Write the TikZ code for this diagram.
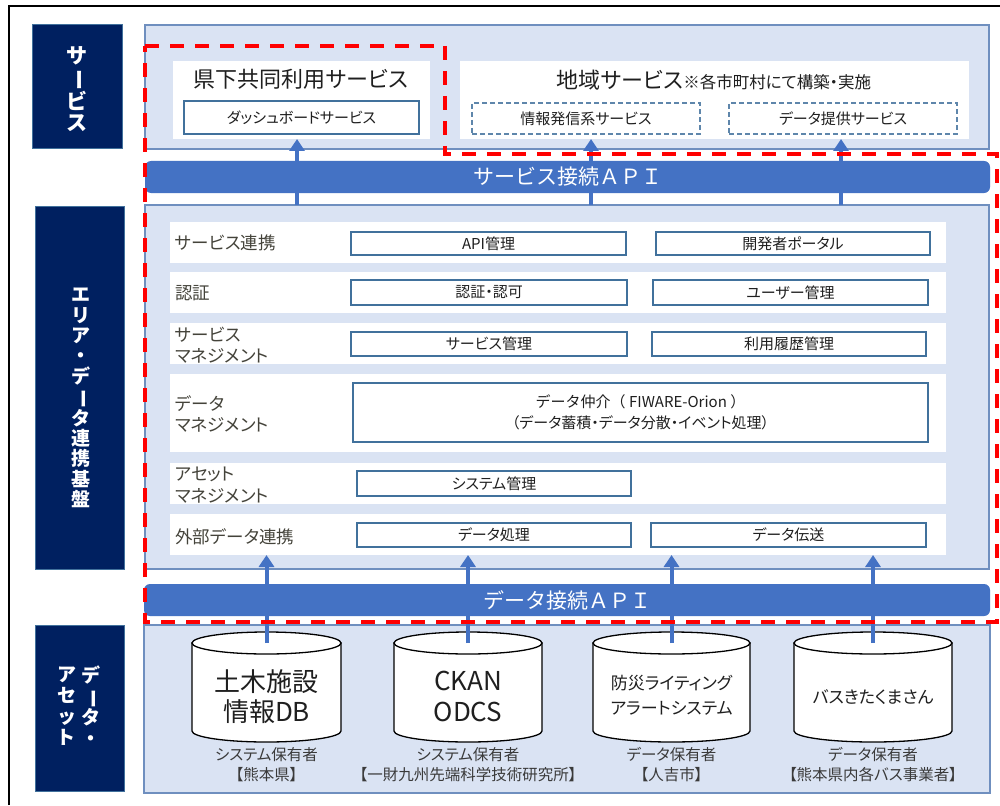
\documentclass[tikz,border=0pt]{standalone}
\usepackage{fontspec}
\setmainfont{Noto Sans CJK JP}[RawFeature=+palt]
\newfontfamily\fw{Noto Sans CJK JP}
\usetikzlibrary{arrows.meta}
\definecolor{navy}{HTML}{002060}
\definecolor{lblue}{HTML}{DAE3F3}
\definecolor{edge}{HTML}{6F8FBF}
\definecolor{boxedge}{HTML}{41719C}
\definecolor{apiblue}{HTML}{4472C4}
\definecolor{lbltext}{HTML}{44433A}
\definecolor{captext}{HTML}{3A3A3A}
\definecolor{itemtext}{HTML}{1F1F1F}
\newcommand{\vbar}{\rotatebox[origin=c]{-90}{ー}}
% \rect{style}{x1}{y1}{x2}{y2}{name}{text}
\newcommand{\rect}[7]{\node[#1,anchor=north west,inner sep=0pt,outer sep=0pt,align=center,
  minimum width={(#4)-(#2)},minimum height={(#5)-(#3)}] (#6) at (#2,#3) {#7};}
\begin{document}
\begin{tikzpicture}[x=1pt,y=-1pt,
  navybox/.style={fill=navy,draw=boxedge,line width=1pt},
  panel/.style={fill=lblue,draw=edge,line width=1.1pt},
  rowbg/.style={fill=white,draw=none},
  titlebg/.style={fill=white,draw=none},
  itembox/.style={draw=boxedge,line width=1.3pt,fill=white,text=itemtext,font=\fontsize{15}{21}\selectfont},
  dbox/.style={draw=boxedge!85,line width=1.2pt,dash pattern=on 5pt off 3pt,fill=white,text=itemtext,font=\fontsize{15}{21}\selectfont},
  apibar/.style={fill=apiblue,draw=none,rounded corners=6pt,text=white,font=\fw\fontsize{21}{24}\selectfont},
  arr/.style={draw=apiblue,line width=4pt,-{Triangle[width=15pt,length=12pt]}},
  cylst/.style={draw=black,line width=1.3pt,fill=white},
  reddash/.style={draw=red,line width=3.5pt,dash pattern=on 14pt off 11pt},
  rowlbl/.style={anchor=west,inner sep=0pt,align=left,text=lbltext,font=\fontsize{17.5}{21.5}\selectfont},
  vlbl/.style={text=white,align=center,inner sep=0pt},
  captxt/.style={text=captext,align=center,inner sep=0pt,font=\fontsize{15.5}{20}\selectfont},
]
\useasboundingbox (0,0) rectangle (1000,805);
\fill[white] (0,0) rectangle (1000,805);
% outer frame (left and top visible)
\draw[line width=1.5pt,black] (9,805) -- (9,6) -- (1000,6);

% left navy labels
\rect{navybox}{32}{25}{122}{149}{nsvc}{}
\node[vlbl,font=\bfseries\fontsize{21}{21.5}\selectfont] (nsvcT) at (77,89) {サ\\\vbar\\ビ\\ス};
\rect{navybox}{35}{206}{124}{569}{narea}{}
\node[vlbl,font=\bfseries\fontsize{19}{20.3}\selectfont] (nareaT) at (81,398) {エ\\リ\\ア\\・\\デ\\\vbar\\タ\\連\\携\\基\\盤};
\rect{navybox}{35}{625}{124}{791}{nasset}{}
\node[vlbl,font=\bfseries\fontsize{19}{21}\selectfont] (nassetR) at (91,706) {デ\\\vbar\\タ\\・};
\node[vlbl,font=\bfseries\fontsize{19}{21}\selectfont] (nassetL) at (67,706) {ア\\セ\\ッ\\ト};

% service panel
\rect{panel}{145}{25}{989}{149}{svc}{}
\rect{titlebg}{173}{61}{430}{139}{kenka}{}
\node[text=itemtext,font=\fontsize{22}{24}\selectfont] (kenkaT) at (301,79) {県下共同利用サービス};
\rect{itembox}{184}{101}{419}{134}{dash}{ダッシュボードサービス}
\rect{titlebg}{460}{61}{969}{139}{chiiki}{}
\node[text=itemtext,font=\fontsize{22}{24}\selectfont] (chiikiT) at (714,80) {地域サービス\fontsize{16.5}{18}\selectfont ※各市町村にて構築・実施};
\rect{dbox}{472}{103}{700}{134}{joho}{情報発信系サービス}
\rect{dbox}{729}{103}{957}{134}{teikyo}{データ提供サービス}

% area panel
\rect{panel}{145}{205}{989}{569}{area}{}
\rect{rowbg}{170}{222}{946}{263}{row1}{}
\rect{rowbg}{170}{272}{946}{313}{row2}{}
\rect{rowbg}{170}{323}{946}{364}{row3}{}
\rect{rowbg}{170}{374}{946}{452}{row4}{}
\rect{rowbg}{170}{463}{946}{504}{row5}{}
\rect{rowbg}{170}{514}{946}{555}{row6}{}

\node[rowlbl] (l1) at (175,243) {サービス連携};
\node[rowlbl] (l2) at (175,293) {認証};
\node[rowlbl] (l3) at (175,345) {サービス\\マネジメント};
\node[rowlbl] (l4) at (175,414) {データ\\マネジメント};
\node[rowlbl] (l5) at (175,485) {アセット\\マネジメント};
\node[rowlbl] (l6) at (175,537) {外部データ連携};

\rect{itembox}{351}{232}{626}{255}{b11}{API管理}
\rect{itembox}{656}{232}{930}{255}{b12}{開発者ポータル}
\rect{itembox}{351}{280}{627}{305}{b21}{認証・認可}
\rect{itembox}{653}{280}{928}{305}{b22}{ユーザー管理}
\rect{itembox}{351}{332}{627}{356}{b31}{サービス管理}
\rect{itembox}{652}{332}{926}{356}{b32}{利用履歴管理}
\rect{itembox}{353}{383}{928}{442}{b41}{{\fw データ仲介（ FIWARE-Orion ）}\\（データ蓄積・データ分散・イベント処理）}
\rect{itembox}{357}{471}{631}{496}{b51}{システム管理}
\rect{itembox}{357}{523}{631}{547}{b61}{データ処理}
\rect{itembox}{651}{523}{926}{547}{b62}{データ伝送}

% service arrows (drawn below the API bar)
\coordinate (sa1) at (297,0);
\coordinate (sa2) at (591,0);
\coordinate (sa3) at (841,0);
\draw[arr] (sa1 |- area.north) -- (sa1 |- kenka.south);
\draw[arr] (sa2 |- area.north) -- (sa2 |- chiiki.south);
\draw[arr] (sa3 |- area.north) -- (sa3 |- chiiki.south);

% service API bar
\rect{apibar}{145}{161}{990}{193}{sapi}{サービス接続ＡＰＩ}

% data asset panel
\rect{panel}{144}{625}{990}{793}{asset}{}

% cylinders
\foreach \cx/\rx/\nm in {266.5/74.5/c1, 468/74/c2, 671.5/78.5/c3, 873/79/c4}{
  \filldraw[cylst] (\cx-\rx,643) -- (\cx-\rx,731) arc[start angle=180,end angle=0,x radius=\rx,y radius=11] -- (\cx+\rx,643) -- cycle;
  \filldraw[cylst] (\cx,643) ellipse [x radius=\rx, y radius=11];
  \coordinate (\nm top) at (\cx,643);
}
\node[align=center,inner sep=0pt,text=itemtext,font=\fontsize{26}{30}\selectfont] (c1T) at (266.5,697) {土木施設\\情報DB};
\node[align=center,inner sep=0pt,text=itemtext,font=\fontsize{26}{31}\selectfont] (c2T) at (468,696) {CKAN\\ODCS};
\node[align=center,inner sep=0pt,text=itemtext,font=\fontsize{17}{25}\selectfont] (c3T) at (671.5,695) {防災ライティング\\アラートシステム};
\node[align=center,inner sep=0pt,text=itemtext,font=\fontsize{17}{21}\selectfont] (c4T) at (873,697) {バスきたくまさん};

\node[captxt] (cap1) at (266.5,765) {システム保有者\\【熊本県】};
\node[captxt] (cap2) at (468,765) {システム保有者\\【一財九州先端科学技術研究所】};
\node[captxt] (cap3) at (671.5,765) {データ保有者\\【人吉市】};
\node[captxt] (cap4) at (873,765) {データ保有者\\【熊本県内各バス事業者】};

% data arrows (drawn below the API bar)
\draw[arr] (c1top) -- (c1top |- row6.south);
\draw[arr] (c2top) -- (c2top |- row6.south);
\draw[arr] (c3top) -- (c3top |- row6.south);
\draw[arr] (c4top) -- (c4top |- row6.south);

% data API bar
\rect{apibar}{144}{584}{990}{616}{dapi}{データ接続ＡＰＩ}

% red dashed boundary
\draw[reddash] (145,46) -- (445,46) -- (445,154) -- (997,154) -- (997,622) -- (145,622) -- cycle;
\end{tikzpicture}
\end{document}
